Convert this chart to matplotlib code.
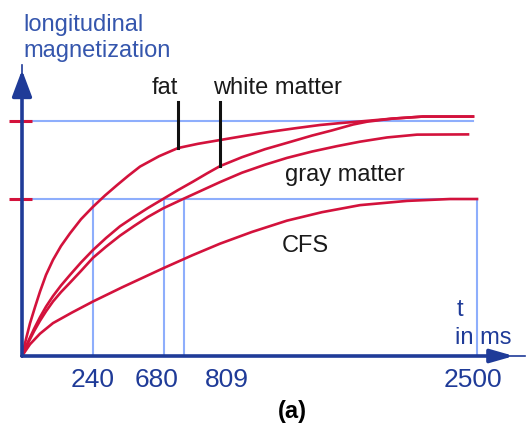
import matplotlib
matplotlib.use("Agg")
import matplotlib.pyplot as plt

plt.rcParams['font.family'] = ['Liberation Sans', 'DejaVu Sans']

# ---- data (x: schematic position units, y: relative longitudinal magnetization) ----
fat_x = [0, 4, 8, 13, 18, 24, 31, 39, 48, 59, 71, 83, 95, 106, 118, 137, 156, 176, 198,
         223, 248, 273, 298, 318, 338, 370, 401, 451]
fat_y = [0, 0.072, 0.139, 0.208, 0.274, 0.345, 0.409, 0.468, 0.522, 0.582, 0.635, 0.683,
         0.727, 0.766, 0.806, 0.850, 0.885, 0.903, 0.919, 0.937, 0.954, 0.969, 0.983,
         0.991, 0.998, 1.010, 1.019, 1.019]

white_x = [0, 6, 12, 18, 24, 31, 39, 48, 59, 71, 84, 98, 112, 126, 141, 156, 171, 185,
           198, 220, 243, 265, 290, 310, 331, 345, 370, 401, 451]
white_y = [0, 0.060, 0.115, 0.165, 0.210, 0.255, 0.300, 0.345, 0.398, 0.451, 0.502,
           0.552, 0.592, 0.630, 0.668, 0.706, 0.742, 0.777, 0.808, 0.846, 0.880, 0.907,
           0.938, 0.960, 0.985, 0.997, 1.010, 1.019, 1.019]

gray_x = [0, 6, 12, 18, 24, 31, 39, 48, 59, 71, 84, 98, 112, 126, 141, 161, 180, 198,
          220, 243, 265, 290, 315, 338, 365, 395, 446]
gray_y = [0, 0.055, 0.105, 0.150, 0.190, 0.232, 0.272, 0.312, 0.362, 0.418, 0.465,
          0.512, 0.553, 0.592, 0.628, 0.668, 0.705, 0.740, 0.780, 0.814, 0.843, 0.870,
          0.893, 0.912, 0.930, 0.942, 0.943]

csf_x = [0, 8, 18, 31, 50, 71, 100, 141, 170, 198, 230, 265, 300, 338, 385, 428, 455]
csf_y = [0, 0.050, 0.095, 0.140, 0.185, 0.232, 0.292, 0.373, 0.428, 0.478, 0.528,
         0.576, 0.612, 0.642, 0.660, 0.668, 0.668]

levels = [1.0, 0.668]              # 100 % and ~63 % levels
guide_x = [71, 142, 162, 455]      # vertical guide positions
tick_labels = ['240', '680', '809', '2500']
tick_label_x = [71, 135, 205, 451]

RED = '#d3123c'
LBLUE = '#8eaefc'
DBLUE = '#1f3b98'
TBLUE = '#3556ad'

fig = plt.figure(figsize=(5.29, 4.23), dpi=100)
ax = fig.add_axes([0, 0, 1, 1])
ax.set_xlim(-22, 507)
ax.set_ylim(-0.2851, 1.5149)
ax.axis('off')

# light blue guides
ax.plot([0, 451], [levels[0], levels[0]], color=LBLUE, lw=1.5, zorder=1)
ax.plot([0, guide_x[-1]], [levels[1], levels[1]], color=LBLUE, lw=1.5, zorder=1)
for gx in guide_x:
    ax.plot([gx, gx], [0, levels[1]], color=LBLUE, lw=1.5, zorder=1)

# red level ticks on the y axis
for lv in levels:
    ax.plot([-13, 10], [lv, lv], color=RED, lw=2.2, zorder=2, solid_capstyle='butt')

# curves
for xs, ys in [(fat_x, fat_y), (white_x, white_y), (gray_x, gray_y), (csf_x, csf_y)]:
    ax.plot(xs, ys, color=RED, lw=1.9, zorder=3, solid_joinstyle='round')

# axes with arrows
ax.plot([0, 503], [0, 0], color=DBLUE, lw=1.2, zorder=4)
ax.plot([0, 0], [0, 1.238], color=DBLUE, lw=1.2, zorder=4)
ax.annotate('', xy=(492, 0), xytext=(0, 0),
            arrowprops=dict(arrowstyle='-|>,head_length=0.7,head_width=0.2',
                            lw=2.6, color=DBLUE, mutation_scale=20,
                            shrinkA=0, shrinkB=0), zorder=5)
ax.annotate('', xy=(0, 1.217), xytext=(0, 0),
            arrowprops=dict(arrowstyle='-|>,head_length=0.8,head_width=0.3',
                            lw=2.6, color=DBLUE, mutation_scale=20,
                            shrinkA=0, shrinkB=0), zorder=5)

# black label pointers
ax.plot([155.7, 155.7], [1.081, 0.886], color='#111111', lw=2.2, zorder=6)
ax.plot([198, 198], [1.081, 0.808], color='#111111', lw=2.2, zorder=6)

# texts
fs = 17
ax.text(1, 1.381, 'longitudinal', color=TBLUE, fontsize=fs, ha='left', va='baseline')
ax.text(1, 1.272, 'magnetization', color=TBLUE, fontsize=fs, ha='left', va='baseline')
ax.text(143, 1.117, 'fat', color='#1a1a1a', fontsize=fs, ha='center', va='baseline')
ax.text(191, 1.117, 'white matter', color='#1a1a1a', fontsize=fs, ha='left', va='baseline')
ax.text(263, 0.745, 'gray matter', color='#1a1a1a', fontsize=fs, ha='left', va='baseline')
ax.text(260, 0.443, 'CFS', color='#1a1a1a', fontsize=fs, ha='left', va='baseline')
for tx, tl in zip(tick_label_x, tick_labels):
    ax.text(tx, -0.132, tl, color=DBLUE, fontsize=19, ha='center', va='baseline')
ax.text(435, 0.170, 't', color=DBLUE, fontsize=fs, ha='left', va='baseline')
ax.text(433, 0.051, 'in ms', color=DBLUE, fontsize=fs, ha='left', va='baseline')
ax.text(270, -0.264, '(a)', color='black', fontsize=17, fontweight='bold', ha='center', va='baseline')

fig.savefig('out.png', dpi=100)
